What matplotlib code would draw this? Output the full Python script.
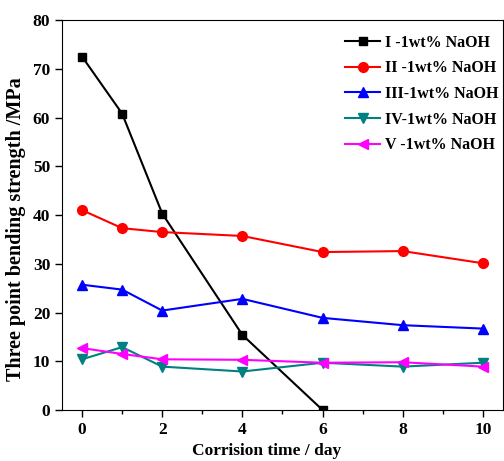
import matplotlib.pyplot as plt
from matplotlib.ticker import MultipleLocator

days = [0, 1, 2, 4, 6, 8, 10]
s1 = [72.5, 60.8, 40.3, 15.4, 0.0]
s2 = [41.0, 37.3, 36.5, 35.7, 32.4, 32.6, 30.1]
s3 = [25.7, 24.7, 20.4, 22.8, 18.9, 17.4, 16.7]
s4 = [10.4, 12.9, 8.9, 7.9, 9.7, 8.9, 9.7]
s5 = [12.7, 11.5, 10.4, 10.3, 9.7, 9.8, 8.9]
labels = ["I -1wt% NaOH", "II -1wt% NaOH", "III-1wt% NaOH", "IV-1wt% NaOH", "V -1wt% NaOH"]

plt.rcParams['font.family'] = ['Liberation Serif', 'DejaVu Serif']
plt.rcParams['font.weight'] = 'bold'

fig = plt.figure(figsize=(5.04, 4.61), dpi=100)
ax = fig.add_axes([0.123, 0.1106, 0.875, 0.846])

ax.plot(days[:len(s1)], s1, color='black', marker='s', ms=6, lw=1.5, label=labels[0])
ax.plot(days, s2, color='red', marker='o', ms=7, lw=1.5, label=labels[1])
ax.plot(days, s3, color='blue', marker='^', ms=7, lw=1.5, label=labels[2])
ax.plot(days, s4, color='#008080', marker='v', ms=7, lw=1.5, label=labels[3])
ax.plot(days, s5, color='magenta', marker='<', ms=7, lw=1.5, label=labels[4])

ax.set_xlim(-0.5, 10.5)
ax.set_ylim(0, 80)
ax.xaxis.set_major_locator(MultipleLocator(2))
ax.xaxis.set_minor_locator(MultipleLocator(1))
ax.yaxis.set_major_locator(MultipleLocator(10))
ax.tick_params(which='major', direction='out', length=5, width=1, labelsize=12.5)
ax.tick_params(which='minor', direction='out', length=3, width=1)
for lab in ax.get_xticklabels() + ax.get_yticklabels():
    lab.set_fontweight('bold')

ax.set_xlabel("Corrision time / day", fontsize=12.5, fontweight='bold')
ax.set_ylabel("Three point bending strength /MPa", fontsize=14.5, fontweight='bold')
ax.xaxis.set_label_coords(0.465, -0.085)
ax.yaxis.set_label_coords(-0.082, 0.464)

ax.legend(loc='upper right', frameon=False, prop={'weight': 'bold', 'size': 11.5},
          handlelength=2.2, handletextpad=0.3, labelspacing=0.6,
          borderaxespad=0, borderpad=0, bbox_to_anchor=(0.99, 0.962))

fig.savefig('out.png', dpi=100)
